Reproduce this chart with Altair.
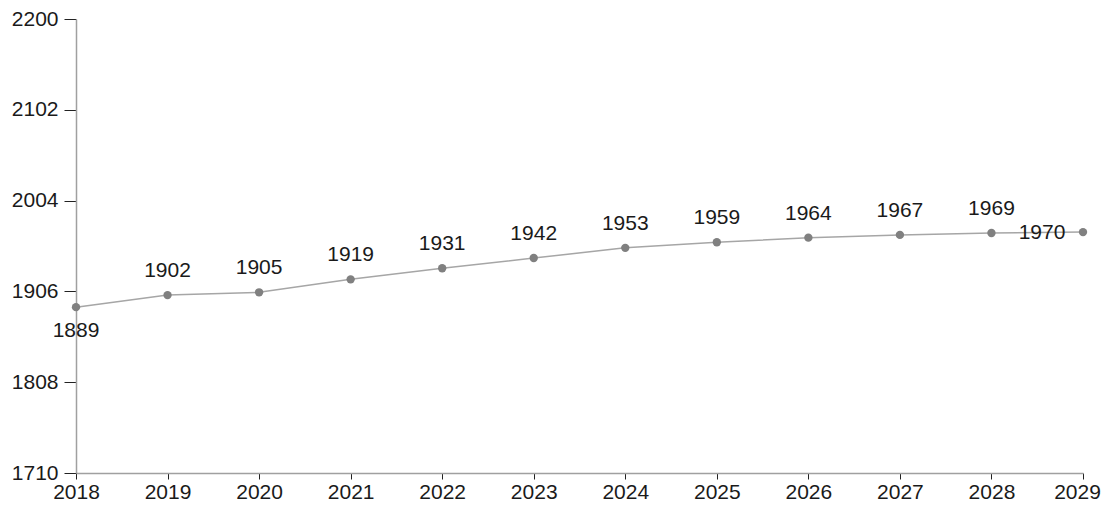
import altair as alt
import pandas as pd

years = [2018, 2019, 2020, 2021, 2022, 2023, 2024, 2025, 2026, 2027, 2028, 2029]
values = [1889, 1902, 1905, 1919, 1931, 1942, 1953, 1959, 1964, 1967, 1969, 1970]
y_ticks = [1710, 1808, 1906, 2004, 2102, 2200]

df = pd.DataFrame({"year": years, "value": values})

FONT = "Liberation Sans"
FS = 21

x = alt.X("year:Q", scale=alt.Scale(domain=[2018, 2029], nice=False, zero=False),
          axis=alt.Axis(values=years, format="d", title=None, grid=False,
                        domainColor="#a0a0a0", domainWidth=1.5, tickColor="#222222",
                        tickSize=6, labelFont=FONT, labelFontSize=FS, labelColor="#1a1a1a",
                        labelPadding=2, labelFlush=False,
                        labelOffset={"expr": "datum.value == 2029 ? -6 : 0"}))
y = alt.Y("value:Q", scale=alt.Scale(domain=[1710, 2200], nice=False, zero=False),
          axis=alt.Axis(values=y_ticks, format="d", title=None, grid=False,
                        domainColor="#a0a0a0", domainWidth=1.5, tickColor="#222222",
                        tickSize=12, labelFont=FONT, labelFontSize=FS, labelColor="#1a1a1a",
                        labelPadding=6))

base = alt.Chart(df).encode(x=x, y=y)

line = base.mark_line(color="#a6a6a6", strokeWidth=1.5)
points = base.mark_point(filled=True, color="#808080", size=70, opacity=1)

txt = dict(font=FONT, fontSize=FS, color="#1a1a1a", baseline="middle")
mid = base.mark_text(dy=-24, **txt).encode(text="value:Q").transform_filter(
    (alt.datum.year > 2018) & (alt.datum.year < 2029))
first = base.mark_text(dy=24, **txt).encode(text="value:Q").transform_filter(alt.datum.year == 2018)
last = base.mark_text(dx=-41, dy=1, **txt).encode(text="value:Q").transform_filter(alt.datum.year == 2029)

chart = alt.layer(line, points, mid, first, last).properties(
    width=1007, height=454,
    autosize=alt.AutoSizeParams(type="none"),
    padding={"left": 68, "top": 11, "right": 18, "bottom": 32},
).configure_view(stroke=None)

chart.save("out.html", embed_options={"renderer": "svg", "actions": False})
